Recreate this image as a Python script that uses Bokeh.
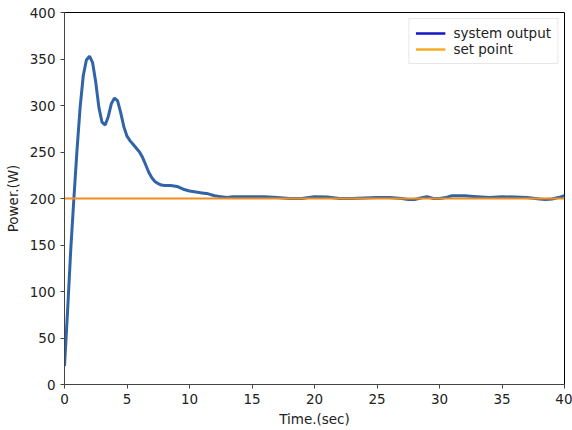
from bokeh.plotting import figure
from bokeh.models import Range1d, Legend, LegendItem, FixedTicker
from bokeh.embed import file_html
from bokeh.resources import INLINE

# Time (sec) and system output power (W)
time_s = [0, 0.25, 0.5, 0.75, 1.0, 1.25, 1.5, 1.75, 2.0, 2.25, 2.5, 2.75, 3.0, 3.25,
          3.5, 3.75, 4.0, 4.25, 4.5, 4.75, 5.0, 5.25, 5.5, 5.75, 6.0, 6.25, 6.5, 6.75,
          7.0, 7.25, 7.5, 7.75, 8.0, 8.5, 9.0, 9.5, 10.0, 10.5, 11.0, 11.5, 12.0, 12.5,
          13.0, 13.5, 14.0, 15.0, 16.0, 17.0, 18.0, 19.0, 20.0, 21.0, 22.0, 23.0, 24.0,
          25.0, 26.0, 27.0, 27.5, 28.0, 28.5, 29.0, 29.5, 30.0, 30.5, 31.0, 32.0, 33.0,
          34.0, 35.0, 36.0, 37.0, 38.0, 38.5, 39.0, 39.5, 40.0]
output_w = [20, 80, 145, 200, 252, 298, 332, 349, 353, 346, 325, 298, 282, 279,
            288, 302, 308, 305, 292, 277, 267, 262, 258, 254, 250, 244, 236, 228,
            222, 218, 216, 214.5, 214, 214, 213, 210, 208, 207, 206, 205, 203, 202,
            201, 202, 202, 202, 202, 201, 200, 200, 202, 201.5, 200, 200, 200.5,
            201, 201, 200, 199, 199, 200.5, 202, 200, 200, 201, 203, 203, 202,
            201, 202, 201.5, 201, 199.5, 199, 199.5, 201, 203]
set_point_w = [200, 200]
set_point_t = [0, 40]

x_ticks = [0, 5, 10, 15, 20, 25, 30, 35, 40]
y_ticks = [0, 50, 100, 150, 200, 250, 300, 350, 400]

FONT = "DejaVu Sans"

p = figure(width=572, height=430, output_backend="svg", toolbar_location=None,
           x_range=Range1d(0, 40), y_range=Range1d(0, 400),
           min_border_left=64, min_border_right=8, min_border_top=12, min_border_bottom=46)

p.xgrid.visible = False
p.ygrid.visible = False
p.outline_line_color = "black"
p.outline_line_alpha = 1.0
p.outline_line_width = 1

for ax in (p.xaxis[0], p.yaxis[0]):
    ax.major_label_text_font = FONT
    ax.major_label_text_font_size = "13.5px"
    ax.major_label_text_color = "#222222"
    ax.axis_label_text_font = FONT
    ax.axis_label_text_font_size = "13.5px"
    ax.axis_label_text_font_style = "normal"
    ax.axis_label_text_color = "#222222"
    ax.axis_line_color = "#444444"
    ax.major_tick_line_color = "#444444"
    ax.major_tick_out = 4
    ax.major_tick_in = 0
    ax.minor_tick_line_color = None

p.xaxis[0].ticker = FixedTicker(ticks=x_ticks)
p.yaxis[0].ticker = FixedTicker(ticks=y_ticks)
p.xaxis[0].axis_label = "Time.(sec)"
p.yaxis[0].axis_label = "Power.(W)"
p.xaxis[0].axis_label_standoff = 4
p.yaxis[0].axis_label_standoff = 6

p.line(time_s, output_w, line_color="#3163a9", line_width=3)
p.line(set_point_t, set_point_w, line_color="#f28e1c", line_width=2)

# legend proxies, drawn outside the visible range
proxy_t = [-10, -9]
proxy_w = [-10, -10]
r1 = p.line(proxy_t, proxy_w, line_color="#1414c8", line_width=2.5)
r2 = p.line(proxy_t, proxy_w, line_color="#f5ad25", line_width=2.5)
legend = Legend(items=[LegendItem(label="system output", renderers=[r1]),
                       LegendItem(label="set point", renderers=[r2])],
                location="top_right",
                label_text_font=FONT, label_text_font_size="13.5px",
                label_text_color="#222222",
                border_line_color="#d0d0d0", border_line_width=1,
                background_fill_alpha=0.9,
                glyph_width=30, glyph_height=14, label_standoff=8,
                spacing=0, padding=6, margin=6, label_height=14)
p.add_layout(legend)

open("out.html", "w").write(file_html(p, INLINE))
